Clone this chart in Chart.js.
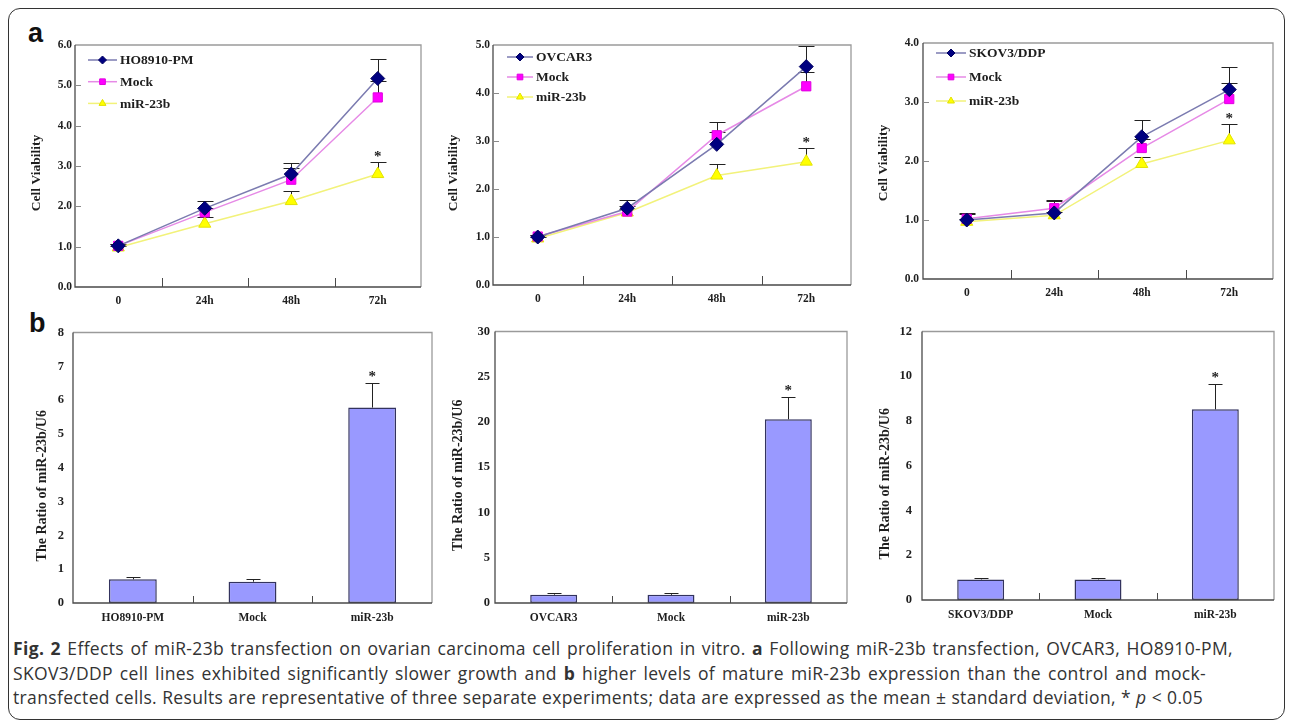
<!DOCTYPE html>
<html><head><meta charset="utf-8">
<script src="https://cdn.jsdelivr.net/npm/chart.js@4.4.1/dist/chart.umd.min.js"></script>
<style>
body{margin:0;background:#fff;width:1292px;height:722px;overflow:hidden;position:relative;font-family:"Open Sans",sans-serif;}
#frame{position:absolute;left:8px;top:8px;width:1277px;height:712px;border:1.5px solid #333;border-radius:12px;box-sizing:border-box;}
.cv{position:absolute;}
.letter{position:absolute;font-family:"Liberation Sans",Arial,sans-serif;font-weight:bold;font-size:27px;line-height:27px;color:#111;}
.cap{position:absolute;left:13px;font-size:17.5px;line-height:24px;letter-spacing:0.35px;color:#333;white-space:nowrap;}
</style></head><body>
<div id="frame"></div>
<div class="letter" style="left:28px;top:20px">a</div>
<div class="letter" style="left:29px;top:310px">b</div>
<canvas id="a1" class="cv"></canvas>
<canvas id="a2" class="cv"></canvas>
<canvas id="a3" class="cv"></canvas>
<canvas id="b1" class="cv"></canvas>
<canvas id="b2" class="cv"></canvas>
<canvas id="b3" class="cv"></canvas>
<div class="cap" id="cap1" data-w="1220" style="top:636px"><b>Fig. 2</b> Effects of miR-23b transfection on ovarian carcinoma cell proliferation in vitro. <b>a</b> Following miR-23b transfection, OVCAR3, HO8910-PM,</div>
<div class="cap" id="cap2" data-w="1193" style="top:661px">SKOV3/DDP cell lines exhibited significantly slower growth and <b>b</b> higher levels of mature miR-23b expression than the control and mock-</div>
<div class="cap" id="cap3" data-w="1190" style="top:685px">transfected cells. Results are representative of three separate experiments; data are expressed as the mean ± standard deviation, * <i>p</i> &lt; 0.05</div>
<script>
// ---------- DATA ----------
const timeLabels = ['0', '24h', '48h', '72h'];

// Panel a (left): HO8910-PM
const a1Names = ['HO8910-PM', 'Mock', 'miR-23b'];
const a1Parent   = [1.02, 1.95, 2.80, 5.17];
const a1ParentSD = [0.05, 0.18, 0.28, 0.48];
const a1Mock     = [1.02, 1.85, 2.66, 4.70];
const a1MockSD   = [0.04, 0.12, 0.29, 0.40];
const a1Mir      = [0.98, 1.57, 2.13, 2.80];
const a1MirSD    = [0.04, 0.17, 0.26, 0.29];
const a1MirSig   = [false, false, false, true];

// Panel a (middle): OVCAR3
const a2Names = ['OVCAR3', 'Mock', 'miR-23b'];
const a2Parent   = [1.00, 1.60, 2.93, 4.55];
const a2ParentSD = [0.04, 0.17, 0.26, 0.42];
const a2Mock     = [1.01, 1.53, 3.12, 4.14];
const a2MockSD   = [0.04, 0.12, 0.27, 0.30];
const a2Mir      = [0.97, 1.51, 2.28, 2.57];
const a2MirSD    = [0.04, 0.08, 0.24, 0.29];
const a2MirSig   = [false, false, false, true];

// Panel a (right): SKOV3/DDP
const a3Names = ['SKOV3/DDP', 'Mock', 'miR-23b'];
const a3Parent   = [1.00, 1.12, 2.41, 3.21];
const a3ParentSD = [0.12, 0.22, 0.29, 0.38];
const a3Mock     = [1.02, 1.20, 2.22, 3.05];
const a3MockSD   = [0.08, 0.12, 0.15, 0.28];
const a3Mir      = [0.97, 1.08, 1.95, 2.35];
const a3MirSD    = [0.05, 0.06, 0.12, 0.27];
const a3MirSig   = [false, false, false, true];

// Panel b: ratio of miR-23b/U6
const b1Labels = ['HO8910-PM', 'Mock', 'miR-23b'];
const b1Values = [0.70, 0.63, 5.78];
const b1SD     = [0.08, 0.08, 0.73];
const b1Sig    = [false, false, true];

const b2Labels = ['OVCAR3', 'Mock', 'miR-23b'];
const b2Values = [0.92, 0.90, 20.3];
const b2SD     = [0.22, 0.22, 2.5];
const b2Sig    = [false, false, true];

const b3Labels = ['SKOV3/DDP', 'Mock', 'miR-23b'];
const b3Values = [0.92, 0.92, 8.52];
const b3SD     = [0.05, 0.05, 1.15];
const b3Sig    = [false, false, true];

const yTitleA = 'Cell Viability';
const yTitleB = 'The Ratio of miR-23b/U6';

// ---------- caption fitting ----------
['cap1', 'cap2', 'cap3'].forEach(id => {
  const el = document.getElementById(id);
  const target = +el.dataset.w;
  const w = el.getBoundingClientRect().width;
  const spaces = (el.textContent.match(/ /g) || []).length;
  el.style.wordSpacing = ((target - w) / spaces).toFixed(2) + 'px';
});

// ---------- STYLE ----------
const SERIF = '"Liberation Serif","Times New Roman",serif';
const TXT = '#1e1e1e';
const lineStyles = [
  {line: '#7b7bb0', fill: '#000080', border: '#000060', style: 'rectRot', r: 7},
  {line: '#e68ae6', fill: '#ff00ff', border: '#e000e0', style: 'rect', r: 6.5},
  {line: '#f2f27a', fill: '#ffff00', border: '#e2e200', style: 'triangle', r: 7}
];

function drawErrors(chart, o) {
  const ctx = chart.ctx, ys = chart.scales.y;
  ctx.save();
  ctx.strokeStyle = '#222';
  ctx.lineWidth = 1;
  chart.data.datasets.forEach((ds, i) => {
    const meta = chart.getDatasetMeta(i);
    const sd = o.sd[i];
    meta.data.forEach((el, j) => {
      const x = Math.round(el.x) + 0.5;
      const y0 = el.y;
      const y1 = Math.round(ys.getPixelForValue(ds.data[j] + sd[j])) + 0.5;
      ctx.beginPath();
      ctx.moveTo(x, y0); ctx.lineTo(x, y1);
      ctx.moveTo(x - o.cap, y1); ctx.lineTo(x + o.cap, y1);
      ctx.stroke();
    });
  });
  ctx.restore();
}
function drawFrame(chart, o) {
  const {left, right, top, bottom} = chart.chartArea;
  const ctx = chart.ctx;
  ctx.save();
  ctx.lineWidth = 1.3;
  ctx.strokeStyle = '#9a9a9a';
  ctx.beginPath(); ctx.moveTo(left, top); ctx.lineTo(right, top); ctx.lineTo(right, bottom); ctx.stroke();
  ctx.strokeStyle = '#4a4a4a';
  ctx.beginPath(); ctx.moveTo(left, top); ctx.lineTo(left, bottom); ctx.lineTo(right, bottom); ctx.stroke();
  const xs = chart.scales.x, ys = chart.scales.y;
  const n = chart.data.labels.length;
  ctx.lineWidth = 1;
  ctx.beginPath();
  for (let i = 0; i < n - 1; i++) {
    const px = Math.round((xs.getPixelForValue(i) + xs.getPixelForValue(i + 1)) / 2) + 0.5;
    ctx.moveTo(px, bottom); ctx.lineTo(px, bottom - o.tickLen);
  }
  ctx.stroke();
  ctx.strokeStyle = '#8a8a8a';
  ctx.beginPath();
  ys.ticks.forEach(t => {
    const py = Math.round(ys.getPixelForValue(t.value)) + 0.5;
    if (py > top + 2 && py < bottom - 2) { ctx.moveTo(left, py); ctx.lineTo(left + o.yTickLen, py); }
  });
  ctx.stroke();
  ctx.restore();
}
function drawYTitle(chart, o) {
  const ctx = chart.ctx, ys = chart.scales.y;
  const {top, bottom} = chart.chartArea;
  const x = ys.left + o.titleSize * 0.6 + 4;
  const y = (top + bottom) / 2 + o.titleShift;
  ctx.save();
  ctx.translate(x, y);
  ctx.rotate(-Math.PI / 2);
  ctx.fillStyle = TXT;
  ctx.font = 'bold ' + o.titleSize + 'px ' + SERIF;
  ctx.textAlign = 'center';
  ctx.textBaseline = 'middle';
  ctx.fillText(o.title, 0, 0);
  ctx.restore();
}
function drawStars(chart, o) {
  const ctx = chart.ctx, ys = chart.scales.y;
  ctx.save();
  ctx.fillStyle = TXT;
  ctx.font = 'bold 15px ' + SERIF;
  ctx.textAlign = 'center';
  ctx.textBaseline = 'alphabetic';
  chart.data.datasets.forEach((ds, i) => {
    const sig = o.sig[i];
    if (!sig) return;
    const meta = chart.getDatasetMeta(i);
    meta.data.forEach((el, j) => {
      if (!sig[j]) return;
      const y1 = ys.getPixelForValue(ds.data[j] + o.sd[i][j]);
      ctx.fillText('*', el.x, y1 - o.starGap);
    });
  });
  ctx.restore();
}
function drawLegend(chart, o) {
  const ctx = chart.ctx, g = o.legend;
  const L = chart.chartArea.left, T = chart.chartArea.top;
  ctx.save();
  chart.data.datasets.forEach((ds, i) => {
    const y = T + g.y0 + i * g.dy;
    const x0 = L + g.dx, x1 = x0 + g.len;
    ctx.strokeStyle = ds.borderColor; ctx.lineWidth = 1.5;
    ctx.beginPath(); ctx.moveTo(x0, y); ctx.lineTo(x1, y); ctx.stroke();
    ctx.fillStyle = ds.pointBackgroundColor; ctx.strokeStyle = ds.pointBorderColor; ctx.lineWidth = 1;
    Chart.helpers.drawPoint(ctx, {pointStyle: ds.pointStyle, radius: g.r, rotation: 0, borderWidth: 1}, (x0 + x1) / 2, y);
    ctx.fillStyle = TXT;
    ctx.font = 'bold 13.5px ' + SERIF;
    ctx.textBaseline = 'middle';
    ctx.textAlign = 'left';
    ctx.fillText(ds.label, x1 + 3, y + 1);
  });
  ctx.restore();
}
const decorPlugin = {
  id: 'decor',
  beforeDatasetsDraw(chart, args, o) { if (o.kind === 'line') drawErrors(chart, o); },
  afterDatasetsDraw(chart, args, o) {
    if (o.kind === 'bar') drawErrors(chart, o);
    drawFrame(chart, o);
    drawStars(chart, o);
    drawYTitle(chart, o);
    if (o.legend) drawLegend(chart, o);
  }
};
Chart.register(decorPlugin);

function place(id, box, tc, titleOff, axisH) {
  const c = document.getElementById(id);
  const padTop = 12, padRight = 6;
  const left = Math.round(tc - titleOff);
  const top = box.T - padTop;
  c.width = box.R + padRight - left;
  c.height = box.B + axisH - top;
  c.style.left = left + 'px';
  c.style.top = top + 'px';
  return {c, yW: box.L - left, padTop, padRight, axisH};
}

function lineChart(id, box, tc, tickPad, yMax, names, series, sds, sigs, legend, shift) {
  const tSize = 13.5;
  const g = place(id, box, tc, tSize * 0.6 + 4, 26);
  new Chart(g.c, {
    type: 'line',
    data: {
      labels: timeLabels,
      datasets: series.map((s, i) => ({
        label: names[i], data: s,
        borderColor: lineStyles[i].line, borderWidth: 1.5, tension: 0,
        pointStyle: lineStyles[i].style, pointRadius: lineStyles[i].r,
        pointBackgroundColor: lineStyles[i].fill, pointBorderColor: lineStyles[i].border,
        pointBorderWidth: 1
      }))
    },
    options: {
      responsive: false, animation: false, events: [],
      layout: {padding: {top: g.padTop, right: g.padRight, left: 0, bottom: 0}},
      plugins: {
        legend: {display: false}, tooltip: {enabled: false},
        decor: {kind: 'line', sd: sds, sig: sigs, cap: 8, tickLen: 9, yTickLen: 6, starGap: 1, legend: legend,
                title: yTitleA, titleSize: tSize, titleShift: shift}
      },
      scales: {
        x: {
          offset: true, grid: {display: false, drawTicks: false}, border: {display: false},
          ticks: {font: {family: SERIF, size: 11.5, weight: 'bold'}, color: TXT, padding: 7, maxRotation: 0, autoSkip: false},
          afterFit: s => { s.height = g.axisH; }
        },
        y: {
          min: 0, max: yMax,
          grid: {display: false, drawTicks: false}, border: {display: false},
          ticks: {stepSize: 1, font: {family: SERIF, size: 11.5, weight: 'bold'}, color: TXT, padding: tickPad,
                  callback: v => Number(v).toFixed(1)},
          title: {display: false},
          afterFit: s => { s.width = g.yW; }
        }
      }
    }
  });
}

function barChart(id, box, tc, tickPad, yMax, step, labels, values, sd, sig, shift) {
  const tSize = 14;
  const g = place(id, box, tc, tSize * 0.6 + 4, 26);
  new Chart(g.c, {
    type: 'bar',
    data: {
      labels: labels,
      datasets: [{
        data: values, backgroundColor: '#9999ff', borderColor: '#33335e', borderWidth: 1.5,
        borderSkipped: false, barPercentage: 0.40, categoryPercentage: 1.0
      }]
    },
    options: {
      responsive: false, animation: false, events: [],
      layout: {padding: {top: g.padTop, right: g.padRight, left: 0, bottom: 0}},
      plugins: {
        legend: {display: false}, tooltip: {enabled: false},
        decor: {kind: 'bar', sd: [sd], sig: [sig], cap: 7, tickLen: 7, yTickLen: 0, starGap: 2,
                title: yTitleB, titleSize: tSize, titleShift: shift}
      },
      scales: {
        x: {
          offset: true, grid: {display: false, drawTicks: false}, border: {display: false},
          ticks: {font: {family: SERIF, size: 11.5, weight: 'bold'}, color: TXT, padding: 8, maxRotation: 0, autoSkip: false},
          afterFit: s => { s.height = g.axisH; }
        },
        y: {
          min: 0, max: yMax,
          grid: {display: false, drawTicks: false}, border: {display: false},
          ticks: {stepSize: step, font: {family: SERIF, size: 12.5, weight: 'bold'}, color: TXT, padding: tickPad},
          title: {display: false},
          afterFit: s => { s.width = g.yW; }
        }
      }
    }
  });
}

const noSig = [false, false, false, false];
lineChart('a1', {L: 75, T: 45, R: 423, B: 287}, 36, 3, 6, a1Names,
  [a1Parent, a1Mock, a1Mir], [a1ParentSD, a1MockSD, a1MirSD], [noSig, noSig, a1MirSig],
  {dx: 13, len: 29, y0: 15, dy: 21.7, r: 4}, 7);
lineChart('a2', {L: 493, T: 45, R: 853, B: 285}, 453, 3, 5, a2Names,
  [a2Parent, a2Mock, a2Mir], [a2ParentSD, a2MockSD, a2MirSD], [noSig, noSig, a2MirSig],
  {dx: 14, len: 26, y0: 12, dy: 20, r: 4}, 8);
lineChart('a3', {L: 923, T: 43, R: 1275, B: 279}, 883, 4, 4, a3Names,
  [a3Parent, a3Mock, a3Mir], [a3ParentSD, a3MockSD, a3MirSD], [noSig, noSig, a3MirSig],
  {dx: 13, len: 30, y0: 10, dy: 24, r: 4}, 2);

barChart('b1', {L: 73, T: 328, R: 432, B: 603}, 42, 9, 8, 1, b1Labels, b1Values, b1SD, b1Sig, 18);
barChart('b2', {L: 495, T: 331, R: 847, B: 603}, 458, 5, 30, 5, b2Labels, b2Values, b2SD, b2Sig, 8);
barChart('b3', {L: 922, T: 326, R: 1274, B: 600}, 885, 10, 12, 2, b3Labels, b3Values, b3SD, b3Sig, 18);
</script>
</body></html>
